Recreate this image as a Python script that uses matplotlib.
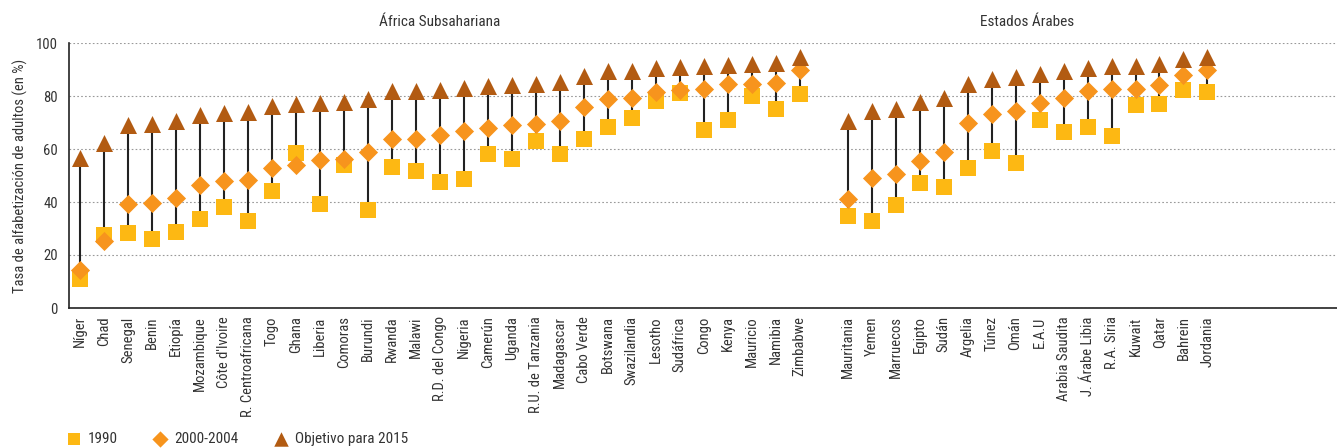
"""Adult literacy rates: 1990, 2000-2004 and the 2015 target, by country."""

import numpy as np
import matplotlib
matplotlib.use("Agg", force=True)
import matplotlib.pyplot as plt
from matplotlib import font_manager

# the original uses a condensed face; take one if the machine has it
faces = [(f.name, f.stretch) for f in font_manager.fontManager.ttflist]
narrow = [n for n, s in faces if n in ("Roboto Condensed", "Liberation Sans Narrow",
                                       "DejaVu Sans Condensed", "Open Sans Condensed")]
condensed = [n for n, s in faces if s in ("condensed", "semi-condensed", 75, 87.5)]
if narrow:
    FAMILY, SCALE = [narrow[0], "DejaVu Sans"], 1.0
elif condensed:
    FAMILY, SCALE = [condensed[0], "DejaVu Sans"], 1.0
    plt.rcParams["font.stretch"] = "condensed"
else:
    FAMILY, SCALE = ["Roboto", "DejaVu Sans"], 0.88
plt.rcParams["font.family"] = FAMILY

africa = [
    "Níger", "Chad", "Senegal", "Benin", "Etiopía", "Mozambique", "Côte d'Ivoire",
    "R. Centroafricana", "Togo", "Ghana", "Liberia", "Comoras", "Burundi", "Rwanda",
    "Malawi", "R.D. del Congo", "Nigeria", "Camerún", "Uganda", "R.U. de Tanzania",
    "Madagascar", "Cabo Verde", "Botswana", "Swazilandia", "Lesotho", "Sudáfrica",
    "Congo", "Kenya", "Mauricio", "Namibia", "Zimbabwe",
]
africa_1990 = [11.1, 27.7, 28.2, 26.2, 28.5, 33.4, 38.3, 33.0, 44.0, 58.4, 39.1, 54.0,
               36.8, 53.1, 51.6, 47.4, 48.5, 58.0, 56.1, 62.9, 58.0, 63.7, 68.2, 71.6,
               78.2, 81.1, 67.1, 70.9, 79.9, 75.0, 80.7]
africa_2004 = [14.2, 25.3, 39.2, 39.6, 41.4, 46.4, 48.0, 48.4, 53.0, 54.1, 55.7, 56.2,
               58.9, 63.9, 63.9, 65.3, 66.8, 67.8, 68.9, 69.4, 70.6, 75.7, 78.8, 79.2,
               81.6, 82.2, 82.7, 84.4, 84.4, 85.0, 89.9]
africa_2015 = [56.7, 62.2, 69.2, 69.4, 70.5, 72.8, 73.6, 73.9, 76.2, 77.0, 77.4, 77.7,
               78.9, 81.7, 81.7, 82.3, 83.2, 83.9, 84.2, 84.6, 85.1, 87.6, 89.3, 89.4,
               90.5, 91.0, 91.3, 91.8, 92.1, 92.3, 94.8]

arab = [
    "Mauritania", "Yemen", "Marruecos", "Egipto", "Sudán", "Argelia", "Túnez", "Omán",
    "E.A.U", "Arabia Saudita", "J. Árabe Libia", "R.A. Siria", "Kuwait", "Qatar",
    "Bahrein", "Jordania",
]
arab_1990 = [34.6, 32.7, 38.7, 47.0, 45.5, 52.7, 59.1, 54.6, 70.9, 66.3, 68.2, 64.8,
             76.5, 76.9, 82.2, 81.5]
arab_2004 = [41.1, 48.9, 50.7, 55.6, 58.9, 69.7, 73.1, 74.4, 77.4, 79.3, 81.7, 82.8,
             82.8, 84.2, 87.8, 89.9]
arab_2015 = [70.4, 74.4, 75.2, 77.6, 79.2, 84.7, 86.4, 87.0, 88.4, 89.5, 90.5, 91.3,
             91.3, 91.9, 93.8, 94.8]

C_1990 = "#FDB813"
C_2004 = "#F7941D"
C_2015 = "#B25B12"
TXT = "#333333"

labels = africa + arab
x = np.concatenate([np.arange(len(africa)), np.arange(len(arab)) + len(africa) + 1])
v1990 = np.array(africa_1990 + arab_1990)
v2004 = np.array(africa_2004 + arab_2004)
v2015 = np.array(africa_2015 + arab_2015)
lo = np.minimum(v1990, v2004)

fig = plt.figure(figsize=(13.37, 4.48), dpi=100)
ax = fig.add_axes([69 / 1337, 1 - 308 / 448, 1 - 69 / 1337, 265 / 448])

ax.vlines(x, lo, v2015, color="#222222", linewidth=1.5, zorder=2)
ax.scatter(x, v1990, marker="s", s=120, color=C_1990, linewidths=0, zorder=3, label="1990")
ax.scatter(x, v2004, marker="D", s=95, color=C_2004, linewidths=0, zorder=4, label="2000-2004")
ax.scatter(x, v2015, marker="^", s=150, color=C_2015, linewidths=0, zorder=5,
           label="Objetivo para 2015", clip_on=False)

fs = 10.5 * SCALE
ax.set_xlim(-0.46, 52.4)
ax.set_ylim(0, 100)
ax.set_yticks([0, 20, 40, 60, 80, 100])
ax.set_xticks(x)
ax.set_xticklabels(labels, rotation=90, fontsize=fs, color=TXT)
ax.tick_params(axis="both", length=0, labelsize=fs, colors=TXT)
ax.tick_params(axis="x", pad=6)
ax.tick_params(axis="y", pad=8)
ax.grid(True, axis="y", linestyle=(0, (1.5, 2)), color="#999999", linewidth=0.8)
ax.set_axisbelow(True)
for side in ("top", "right"):
    ax.spines[side].set_visible(False)
for side in ("left", "bottom"):
    ax.spines[side].set_color("#222222")
    ax.spines[side].set_linewidth(1.2)

ax.set_ylabel("Tasa de alfabetización de adultos (en %)", fontsize=fs, color=TXT, labelpad=6)

fig.text(440 / 1337, 1 - 22 / 448, "África Subsahariana", ha="center", va="center",
         fontsize=11 * SCALE, color=TXT)
fig.text(1027 / 1337, 1 - 22 / 448, "Estados Árabes", ha="center", va="center",
         fontsize=11 * SCALE, color=TXT)

fig.legend(loc="lower left", bbox_to_anchor=(57 / 1337, -0.017), ncol=3, frameon=False,
           fontsize=11 * SCALE, handlelength=1.0, handletextpad=0.4, columnspacing=2.3,
           borderpad=0.1, markerscale=0.85, labelcolor=TXT)

fig.savefig("out.png", dpi=100)
